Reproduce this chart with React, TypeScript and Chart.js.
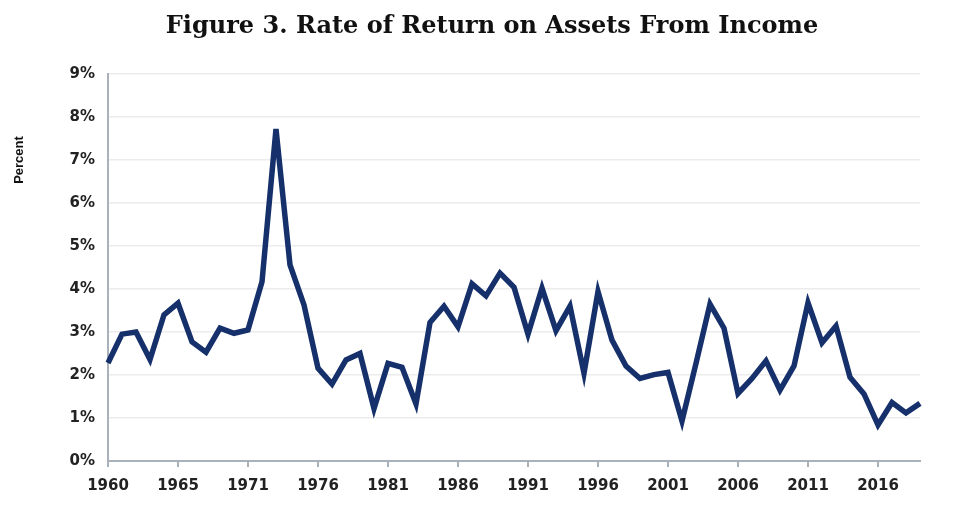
import React, { useEffect, useRef } from "react";
import { Chart, registerables } from "chart.js";

Chart.register(...registerables);

const years: number[] = [
  1960, 1961, 1962, 1963, 1964, 1965, 1966, 1967, 1968, 1969,
  1971, 1972, 1973, 1974, 1975, 1976, 1977, 1978, 1979, 1980,
  1981, 1982, 1983, 1984, 1985, 1986, 1987, 1988, 1989, 1990,
  1991, 1992, 1993, 1994, 1995, 1996, 1997, 1998, 1999, 2000,
  2001, 2002, 2003, 2004, 2005, 2006, 2007, 2008, 2009, 2010,
  2011, 2012, 2013, 2014, 2015, 2016, 2017, 2018, 2019,
];

const returnRate: number[] = [
  2.28, 2.95, 3.0, 2.36, 3.4, 3.67, 2.77, 2.53, 3.09, 2.97,
  3.05, 4.17, 7.72, 4.56, 3.63, 2.16, 1.79, 2.35, 2.5, 1.22,
  2.27, 2.18, 1.33, 3.22, 3.6, 3.12, 4.12, 3.84, 4.37, 4.04,
  2.95, 4.02, 3.03, 3.6, 2.04, 3.94, 2.81, 2.21, 1.92, 2.01,
  2.06, 0.93, 2.27, 3.65, 3.09, 1.57, 1.92, 2.33, 1.65, 2.21,
  3.68, 2.75, 3.14, 1.95, 1.56, 0.84, 1.36, 1.12, 1.34,
];

const yTicks: number[] = [0, 1, 2, 3, 4, 5, 6, 7, 8, 9];

const titleText = "Figure 3. Rate of Return on Assets From Income";
const yTitleText = "Percent";

const textPlugin = {
  id: "customTexts",
  afterDraw(chart: any) {
    const ctx = chart.ctx;
    ctx.save();
    ctx.fillStyle = "#111111";
    ctx.font = "bold 24px 'DejaVu Serif'";
    ctx.textAlign = "center";
    ctx.textBaseline = "middle";
    ctx.fillText(titleText, 492, 27);
    ctx.translate(19, 160);
    ctx.rotate(-Math.PI / 2);
    ctx.font = "bold 13px 'Liberation Sans'";
    ctx.fillStyle = "#111111";
    ctx.fillText(yTitleText, 0, 0);
    ctx.restore();
  },
};

export default function App() {
  const ref = useRef<HTMLCanvasElement | null>(null);

  useEffect(() => {
    document.body.style.margin = "0";
    if (!ref.current) return;
    const chart = new Chart(ref.current, {
      type: "line",
      data: {
        labels: years.map(String),
        datasets: [
          {
            data: returnRate,
            borderColor: "#15306a",
            borderWidth: 5.5,
            pointRadius: 0,
            tension: 0,
            fill: false,
          },
        ],
      },
      options: {
        animation: false,
        responsive: false,
        devicePixelRatio: 1,
        layout: { padding: { top: 74, right: 38, left: 0, bottom: 0 } },
        plugins: {
          legend: { display: false },
          tooltip: { enabled: false },
          title: { display: false },
        },
        scales: {
          x: {
            offset: false,
            afterFit: (s: any) => {
              s.height = 55;
            },
            border: { display: true, color: "#a9b1ba", width: 2 },
            grid: {
              display: true,
              drawOnChartArea: false,
              drawTicks: true,
              tickLength: 6,
              color: (c: any) => (c.index % 5 === 0 ? "#a9b1ba" : "rgba(0,0,0,0)"),
              lineWidth: 2,
            },
            ticks: {
              autoSkip: false,
              maxRotation: 0,
              minRotation: 0,
              padding: 10,
              color: "#222222",
              font: { family: "'DejaVu Sans'", weight: "bold", size: 15 },
              callback: (_v: any, i: number) => (i % 5 === 0 ? String(years[i]) : ""),
            },
          },
          y: {
            min: 0,
            max: 9,
            afterFit: (s: any) => {
              s.width = 108;
            },
            afterBuildTicks: (s: any) => {
              s.ticks = yTicks.map((v) => ({ value: v }));
            },
            border: { display: true, color: "#a9b1ba", width: 2 },
            grid: {
              color: (c: any) => (c.tick && c.tick.value === 0 ? "rgba(0,0,0,0)" : "#ececec"),
              lineWidth: 1.5,
              drawTicks: false,
            },
            ticks: {
              stepSize: 1,
              padding: 13,
              color: "#222222",
              font: { family: "'DejaVu Sans'", weight: "bold", size: 15 },
              callback: (v: any) => `${v}%`,
            },
          },
        },
      },
      plugins: [textPlugin],
    });
    return () => chart.destroy();
  }, []);

  return <canvas ref={ref} width={958} height={516} style={{ display: "block" }} />;
}
